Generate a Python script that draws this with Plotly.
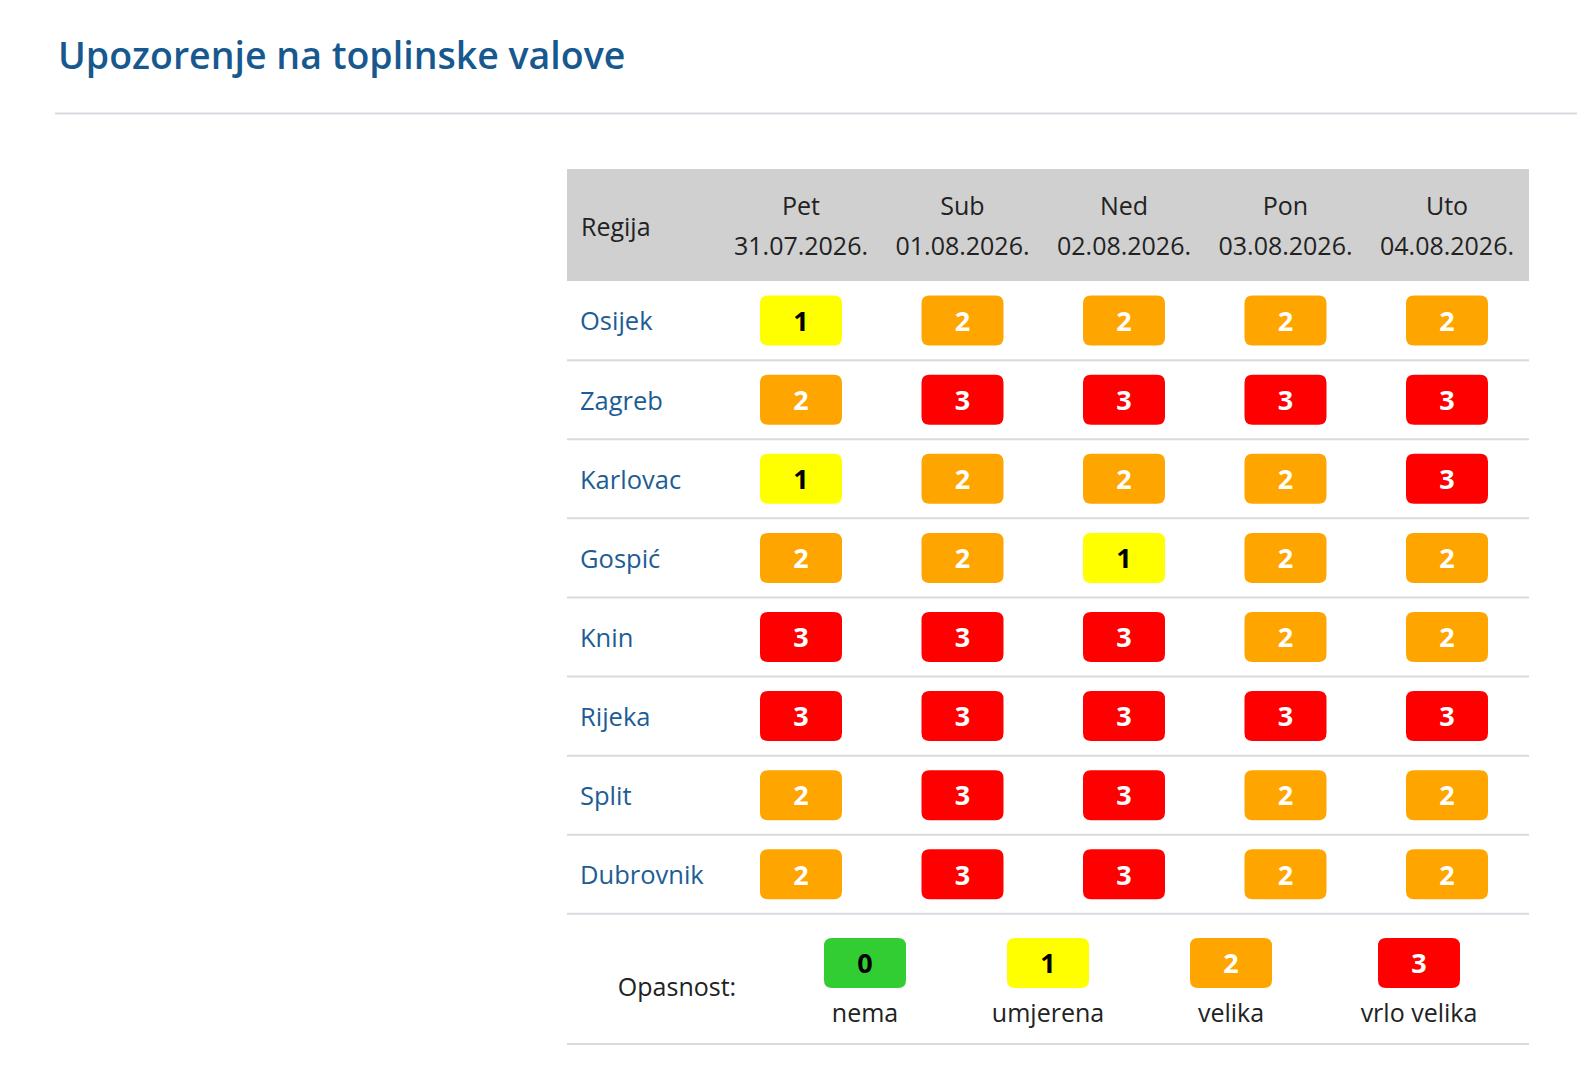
import plotly.graph_objects as go

# ---------------- data ----------------
regions = ["Osijek", "Zagreb", "Karlovac", "Gospić", "Knin", "Rijeka", "Split", "Dubrovnik"]
day_names = ["Pet", "Sub", "Ned", "Pon", "Uto"]
dates = ["31.07.2026.", "01.08.2026.", "02.08.2026.", "03.08.2026.", "04.08.2026."]

osijek = [1, 2, 2, 2, 2]
zagreb = [2, 3, 3, 3, 3]
karlovac = [1, 2, 2, 2, 3]
gospic = [2, 2, 1, 2, 2]
knin = [3, 3, 3, 2, 2]
rijeka = [3, 3, 3, 3, 3]
split = [2, 3, 3, 2, 2]
dubrovnik = [2, 3, 3, 2, 2]
levels = [osijek, zagreb, karlovac, gospic, knin, rijeka, split, dubrovnik]

legend_levels = [0, 1, 2, 3]
legend_labels = ["nema", "umjerena", "velika", "vrlo velika"]

title_text = "Upozorenje na toplinske valove"
header_region = "Regija"
legend_title = "Opasnost:"

# ---------------- style ----------------
W, H = 1577, 1080
COL_PX, COL0_PX = 161.5, 801.0      # column pitch / first day column centre (px)
ROW_PX, ROW0_PX = 79.1, 320.6       # row pitch / first region row centre (px)
TXT_DY = 3.5                         # text baseline nudge (px)

level_fill = {0: "#32cd32", 1: "#ffff00", 2: "#ffa500", 3: "#ff0000"}
level_text = {0: "#000000", 1: "#000000", 2: "#ffffff", 3: "#ffffff"}
FONT = "Open Sans"
TITLE_C = "#17598f"
LINK_C = "#1d5d94"
TEXT_C = "#222222"
GRID_C = "#d6dadf"
HEAD_BG = "#d0d0d0"


def xu(px):  # pixel -> column units
    return (px - COL0_PX) / COL_PX


def yu(px):  # pixel -> row units
    return (px - ROW0_PX) / ROW_PX


DY = TXT_DY / ROW_PX
BADGE_W = 82 / COL_PX
BADGE_H = 50 / ROW_PX
RX, RY = 8 / COL_PX, 8 / ROW_PX


def rounded(cx, cy, w, h, rx, ry):
    x0, x1 = cx - w / 2, cx + w / 2
    y0, y1 = cy - h / 2, cy + h / 2
    return (f"M {x0+rx},{y0} L {x1-rx},{y0} Q {x1},{y0} {x1},{y0+ry} "
            f"L {x1},{y1-ry} Q {x1},{y1} {x1-rx},{y1} L {x0+rx},{y1} "
            f"Q {x0},{y1} {x0},{y1-ry} L {x0},{y0+ry} Q {x0},{y0} {x0+rx},{y0} Z")


TABLE_L, TABLE_R = xu(567), xu(1529)
HEAD_T = yu(169)
n_rows = len(regions)

fig = go.Figure()
shapes = []

# header background
shapes.append(dict(type="rect", xref="x", yref="y", x0=TABLE_L, x1=TABLE_R,
                   y0=HEAD_T, y1=-0.5, fillcolor=HEAD_BG, line=dict(width=0), layer="below"))
# row separators
for j in range(n_rows):
    shapes.append(dict(type="line", xref="x", yref="y", x0=TABLE_L, x1=TABLE_R,
                       y0=j + 0.5, y1=j + 0.5, line=dict(color=GRID_C, width=2)))
# legend bottom line
shapes.append(dict(type="line", xref="x", yref="y", x0=TABLE_L, x1=TABLE_R,
                   y0=yu(1044), y1=yu(1044), line=dict(color=GRID_C, width=2)))
# title rule
shapes.append(dict(type="line", xref="paper", yref="paper", x0=55 / W, x1=1,
                   y0=1 - 113.5 / H, y1=1 - 113.5 / H, line=dict(color=GRID_C, width=2)))

# badges
bx, by, bt, bc = [], [], [], []
for j, row in enumerate(levels):
    for i, lv in enumerate(row):
        shapes.append(dict(type="path", xref="x", yref="y",
                           path=rounded(i, j, BADGE_W, BADGE_H, RX, RY),
                           fillcolor=level_fill[lv], line=dict(width=0), layer="below"))
        bx.append(i); by.append(j + DY); bt.append(str(lv)); bc.append(level_text[lv])

fig.add_trace(go.Scatter(x=bx, y=by, text=bt, mode="text", hoverinfo="skip",
                         textfont=dict(family=FONT, size=27, color=bc, weight=700)))

# header texts
cols = list(range(len(day_names)))
fig.add_trace(go.Scatter(x=cols, y=[yu(205) + DY] * len(cols), text=day_names, mode="text",
                         hoverinfo="skip", textfont=dict(family=FONT, size=25, color=TEXT_C)))
fig.add_trace(go.Scatter(x=cols, y=[yu(245) + DY] * len(cols), text=dates, mode="text",
                         hoverinfo="skip", textfont=dict(family=FONT, size=25, color=TEXT_C)))
fig.add_trace(go.Scatter(x=[xu(581)], y=[yu(226) + DY], text=[header_region], mode="text",
                         textposition="middle right", hoverinfo="skip",
                         textfont=dict(family=FONT, size=25, color=TEXT_C)))

# region labels
fig.add_trace(go.Scatter(x=[xu(580)] * n_rows, y=[j + DY for j in range(n_rows)], text=regions,
                         mode="text", textposition="middle right", hoverinfo="skip",
                         textfont=dict(family=FONT, size=25.5, color=LINK_C)))

# legend
leg_x = [xu(p) for p in (865, 1048, 1231, 1419)]
leg_y = yu(963)
for lv, lx in zip(legend_levels, leg_x):
    shapes.append(dict(type="path", xref="x", yref="y",
                       path=rounded(lx, leg_y, BADGE_W, BADGE_H, RX, RY),
                       fillcolor=level_fill[lv], line=dict(width=0), layer="below"))
fig.add_trace(go.Scatter(x=leg_x, y=[leg_y + DY] * 4, text=[str(v) for v in legend_levels],
                         mode="text", hoverinfo="skip",
                         textfont=dict(family=FONT, size=27, weight=700,
                                       color=[level_text[v] for v in legend_levels])))
fig.add_trace(go.Scatter(x=leg_x, y=[yu(1012) + DY] * 4, text=legend_labels, mode="text",
                         hoverinfo="skip", textfont=dict(family=FONT, size=25, color=TEXT_C)))
fig.add_trace(go.Scatter(x=[xu(677)], y=[yu(986) + DY], text=[legend_title], mode="text",
                         hoverinfo="skip", textfont=dict(family=FONT, size=25, color=TEXT_C)))

fig.update_layout(
    width=W, height=H, margin=dict(l=0, r=0, t=0, b=0),
    paper_bgcolor="white", plot_bgcolor="white", showlegend=False,
    shapes=shapes,
    xaxis=dict(range=[xu(0), xu(W)], visible=False, fixedrange=True),
    yaxis=dict(range=[yu(H), yu(0)], visible=False, fixedrange=True),
    annotations=[dict(text=title_text, xref="paper", yref="paper", x=56 / W, y=1 - 54 / H,
                      xanchor="left", yanchor="middle", showarrow=False,
                      font=dict(family=FONT, size=37.5, color=TITLE_C, weight=600))],
)

fig.write_html("out.html", config={"displayModeBar": False},
               post_script="document.body.style.margin='0';")
